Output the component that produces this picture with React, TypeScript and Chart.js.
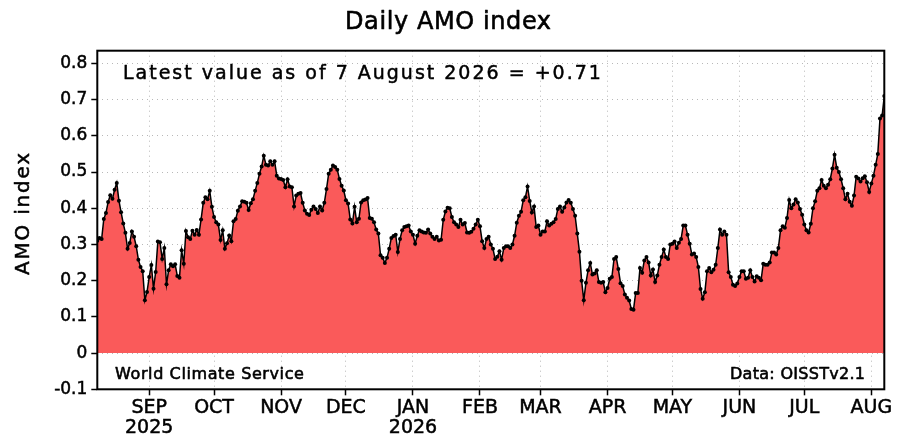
import React, { useEffect, useRef } from "react";
import { Chart, registerables } from "chart.js";

Chart.register(...registerables);

// Daily AMO index, 8 Aug 2025 .. 7 Aug 2026 (one value per day)
const aug2025 = [0.31, 0.318, 0.315, 0.37, 0.387, 0.417, 0.436, 0.426, 0.451, 0.47, 0.421, 0.389, 0.358, 0.332, 0.288, 0.304, 0.336, 0.321, 0.295, 0.258, 0.238, 0.226, 0.146, 0.169];
const sep2025 = [0.21, 0.243, 0.178, 0.224, 0.308, 0.306, 0.26, 0.29, 0.19, 0.229, 0.245, 0.24, 0.245, 0.213, 0.208, 0.284, 0.247, 0.337, 0.32, 0.315, 0.338, 0.327, 0.34, 0.327, 0.369, 0.415, 0.43, 0.425, 0.448, 0.404];
const oct2025 = [0.376, 0.361, 0.355, 0.312, 0.339, 0.288, 0.303, 0.325, 0.309, 0.364, 0.37, 0.393, 0.405, 0.419, 0.418, 0.415, 0.395, 0.414, 0.425, 0.448, 0.47, 0.495, 0.515, 0.545, 0.52, 0.518, 0.53, 0.52, 0.53, 0.49, 0.482];
const nov2025 = [0.481, 0.478, 0.458, 0.48, 0.46, 0.458, 0.405, 0.435, 0.44, 0.442, 0.415, 0.394, 0.385, 0.381, 0.396, 0.405, 0.398, 0.387, 0.405, 0.394, 0.415, 0.453, 0.495, 0.506, 0.518, 0.514, 0.506, 0.481, 0.462, 0.449];
const dec2025 = [0.422, 0.413, 0.369, 0.358, 0.404, 0.361, 0.371, 0.416, 0.422, 0.424, 0.428, 0.373, 0.371, 0.361, 0.341, 0.33, 0.27, 0.263, 0.249, 0.263, 0.288, 0.318, 0.323, 0.327, 0.279, 0.315, 0.339, 0.348, 0.35, 0.352, 0.336];
const jan2026 = [0.327, 0.302, 0.324, 0.339, 0.336, 0.333, 0.332, 0.341, 0.33, 0.321, 0.315, 0.321, 0.311, 0.313, 0.368, 0.391, 0.401, 0.4, 0.376, 0.361, 0.355, 0.348, 0.368, 0.355, 0.359, 0.333, 0.332, 0.335, 0.343, 0.355, 0.368];
const feb2026 = [0.35, 0.309, 0.29, 0.315, 0.321, 0.3, 0.288, 0.26, 0.266, 0.281, 0.258, 0.29, 0.295, 0.295, 0.29, 0.3, 0.324, 0.36, 0.379, 0.39, 0.422, 0.43, 0.46, 0.42, 0.388, 0.405, 0.348, 0.352];
const mar2026 = [0.327, 0.336, 0.336, 0.364, 0.352, 0.357, 0.361, 0.37, 0.398, 0.405, 0.39, 0.402, 0.416, 0.423, 0.415, 0.398, 0.379, 0.33, 0.28, 0.2, 0.146, 0.194, 0.229, 0.249, 0.217, 0.22, 0.229, 0.196, 0.194, 0.196, 0.168];
const apr2026 = [0.18, 0.205, 0.21, 0.26, 0.265, 0.232, 0.193, 0.185, 0.162, 0.153, 0.145, 0.122, 0.12, 0.166, 0.166, 0.235, 0.222, 0.256, 0.265, 0.25, 0.214, 0.231, 0.196, 0.214, 0.244, 0.265, 0.286, 0.265, 0.26, 0.3];
const may2026 = [0.302, 0.308, 0.29, 0.305, 0.315, 0.352, 0.352, 0.327, 0.302, 0.272, 0.275, 0.265, 0.238, 0.177, 0.15, 0.168, 0.226, 0.235, 0.223, 0.23, 0.244, 0.29, 0.341, 0.327, 0.336, 0.327, 0.223, 0.21, 0.189, 0.185, 0.192];
const jun2026 = [0.21, 0.226, 0.226, 0.205, 0.208, 0.229, 0.21, 0.198, 0.212, 0.208, 0.201, 0.247, 0.244, 0.244, 0.25, 0.278, 0.278, 0.272, 0.29, 0.339, 0.35, 0.346, 0.373, 0.423, 0.4, 0.41, 0.425, 0.416, 0.398, 0.382];
const jul2026 = [0.355, 0.339, 0.333, 0.357, 0.4, 0.419, 0.448, 0.455, 0.478, 0.462, 0.455, 0.465, 0.48, 0.51, 0.548, 0.512, 0.5, 0.48, 0.455, 0.425, 0.44, 0.418, 0.407, 0.435, 0.487, 0.482, 0.474, 0.483, 0.488, 0.472, 0.445];
const aug2026 = [0.468, 0.49, 0.52, 0.55, 0.648, 0.656, 0.71];

const seriesValues = [
  ...aug2025, ...sep2025, ...oct2025, ...nov2025, ...dec2025, ...jan2026,
  ...feb2026, ...mar2026, ...apr2026, ...may2026, ...jun2026, ...jul2026, ...aug2026,
];

// x axis: day index from 8 Aug 2025; ticks at the first day of each month
const monthStartDays = [24, 54, 85, 115, 146, 177, 205, 236, 266, 297, 327, 358];
const monthLabels = ["SEP", "OCT", "NOV", "DEC", "JAN", "FEB", "MAR", "APR", "MAY", "JUN", "JUL", "AUG"];
const yearLabels = ["2025", "", "", "", "2026", "", "", "", "", "", "", ""];
const lastDay = 364;

const yMin = -0.1;
const yMax = 0.835;
const yStep = 0.1;

const titleText = "Daily AMO index";
const yAxisText = "AMO index";
const latestText = "Latest value as of 7 August 2026 = +0.71";
const leftFooter = "World Climate Service";
const rightFooter = "Data: OISSTv2.1";

const FONT = '"DejaVu Sans", "Liberation Sans", sans-serif';

function drawSpaced(
  ctx: CanvasRenderingContext2D,
  text: string,
  x: number,
  y: number,
  width: number,
  font: string,
  stroke: number
) {
  ctx.save();
  ctx.font = font;
  ctx.fillStyle = "#000";
  ctx.strokeStyle = "#000";
  ctx.lineWidth = stroke;
  ctx.lineJoin = "round";
  ctx.textAlign = "left";
  ctx.textBaseline = "alphabetic";
  const anyCtx = ctx as any;
  if ("letterSpacing" in anyCtx) anyCtx.letterSpacing = "0px";
  const w = ctx.measureText(text).width;
  if ("letterSpacing" in anyCtx) {
    const ls = (width - w) / Math.max(1, text.length - 1);
    anyCtx.letterSpacing = ls.toFixed(2) + "px";
    ctx.fillText(text, x, y);
    if (stroke > 0) ctx.strokeText(text, x, y);
  } else {
    ctx.translate(x, y);
    ctx.scale(width / w, 1);
    ctx.fillText(text, 0, 0);
    if (stroke > 0) ctx.strokeText(text, 0, 0);
  }
  ctx.restore();
}

const decorPlugin = {
  id: "decor",
  afterDraw(chart: any) {
    const { ctx, chartArea } = chart;
    const { left, top, right, bottom } = chartArea;
    ctx.save();
    ctx.strokeStyle = "#000";
    ctx.lineWidth = 2;
    ctx.strokeRect(left, top, right - left, bottom - top);
    ctx.restore();

    drawSpaced(ctx, titleText, 345, 29, 206, `24px ${FONT}`, 0.6);
    drawSpaced(ctx, latestText, 123, 79, 478, `19px ${FONT}`, 0.5);
    drawSpaced(ctx, leftFooter, 115, 379, 189, `16px ${FONT}`, 0.6);
    drawSpaced(ctx, rightFooter, 730, 379, 135, `16px ${FONT}`, 0.6);

    ctx.save();
    ctx.translate(29, 275);
    ctx.rotate(-Math.PI / 2);
    drawSpaced(ctx, yAxisText, 0, 0, 122, `20px ${FONT}`, 0.5);
    ctx.restore();
  },
};

export default function App() {
  const ref = useRef<HTMLCanvasElement | null>(null);

  useEffect(() => {
    if (!ref.current) return;
    const points = seriesValues.map((v, i) => ({ x: i, y: v }));
    const chart = new Chart(ref.current, {
      type: "line",
      data: {
        datasets: [
          {
            data: points,
            borderColor: "#000",
            borderWidth: 1.5,
            backgroundColor: "rgb(250, 90, 90)",
            fill: "origin",
            pointRadius: 2,
            pointBackgroundColor: "#000",
            pointBorderWidth: 0,
            tension: 0,
          },
        ],
      },
      options: {
        responsive: false,
        animation: false,
        events: [],
        layout: { padding: { left: 0, right: 15.7, top: 50.7, bottom: 0 } },
        plugins: {
          legend: { display: false },
          title: { display: false },
          tooltip: { enabled: false },
        },
        scales: {
          x: {
            type: "linear",
            min: 0,
            max: lastDay,
            z: 1,
            afterFit: (scale: any) => {
              scale.height = 447 - 389.3;
            },
            afterBuildTicks: (scale: any) => {
              scale.ticks = monthStartDays.map((v) => ({ value: v }));
            },
            grid: {
              color: "#b8b8b8",
              lineWidth: 1,
              tickColor: "#000",
              tickWidth: 1.5,
              tickLength: 6,
            },
            border: { display: false, dash: [1, 4] },
            ticks: {
              autoSkip: false,
              maxRotation: 0,
              minRotation: 0,
              padding: 3,
              color: "#000",
              textStrokeColor: "#000",
              textStrokeWidth: 0.5,
              font: { family: FONT, size: 19, lineHeight: 1.05 },
              callback: (_v: any, i: number) =>
                yearLabels[i] ? [monthLabels[i], yearLabels[i]] : monthLabels[i],
            },
          },
          y: {
            type: "linear",
            min: yMin,
            max: yMax,
            z: 1,
            afterFit: (scale: any) => {
              scale.width = 97.3;
            },
            grid: {
              color: "#b8b8b8",
              lineWidth: 1,
              tickColor: "#000",
              tickWidth: 1.5,
              tickLength: 6,
            },
            border: { display: false, dash: [1, 4] },
            ticks: {
              stepSize: yStep,
              includeBounds: false,
              padding: 4,
              color: "#000",
              textStrokeColor: "#000",
              textStrokeWidth: 0.5,
              font: { family: FONT, size: 17 },
              callback: (v: any) => {
                const n = Number(v);
                if (Math.abs(n) < 1e-9) return "0";
                return n.toFixed(1);
              },
            },
          },
        },
      },
      plugins: [decorPlugin],
    } as any);
    return () => chart.destroy();
  }, []);

  return (
    <div style={{ position: "absolute", left: 0, top: 0, width: 900, height: 447, background: "#fff" }}>
      <canvas ref={ref} width={900} height={447} style={{ width: 900, height: 447, display: "block" }} />
    </div>
  );
}
